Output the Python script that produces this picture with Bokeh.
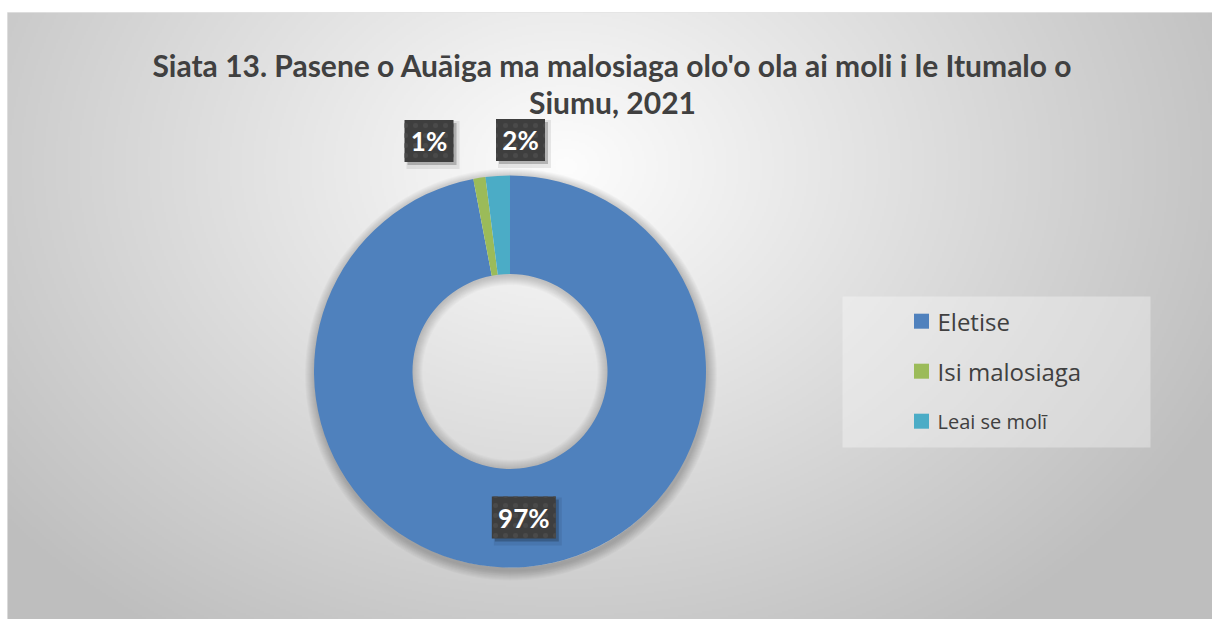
import numpy as np
from bokeh.plotting import figure
from bokeh.models import Range1d, ColumnDataSource
from bokeh.core.properties import value
from bokeh.embed import file_html
from bokeh.resources import INLINE

# ---------------- data ----------------
title_lines = ["Siata 13. Pasene o Auāiga ma malosiaga olo'o ola ai moli i le Itumalo o",
               "Siumu, 2021"]
categories = ["Eletise", "Isi malosiaga", "Leai se molī"]
shares = [97, 1, 2]
colors = ["#4f81bd", "#9bbb59", "#4bacc6"]
legend_font_sizes = ["24px", "24px", "20px"]

# ---------------- layout ----------------
W, H = 1212, 619
X0, X1 = 7, 1212
Y0, Y1 = 12, 619
CX, CY = 509.5, -371.0
R_OUT, R_IN = 196.0, 97.5
TXT = "#404040"
# manual placement of the two outside labels (offset from centre, px)
outside_offsets = {1: (-81.0, 230.5), 2: (10.5, 231.5)}

p = figure(width=W, height=H, x_range=Range1d(X0, X1), y_range=Range1d(-Y1, -Y0),
           output_backend="svg", toolbar_location=None,
           x_axis_location=None, y_axis_location=None,
           min_border_left=X0, min_border_right=0, min_border_top=Y0, min_border_bottom=0)
p.grid.visible = False
p.outline_line_color = "#e4e4e4"
p.background_fill_color = "#d8d8d8"
p.border_fill_color = "white"

# radial gradient background
nx, ny = 603, 304
xs = np.linspace(X0, X1, nx)
ys = np.linspace(Y1, Y0, ny)
XX, YY = np.meshgrid(xs, ys)
t = np.sqrt(((XX - 565) / 720) ** 2 + ((YY - 165) / 560) ** 2)
g = np.clip(253 - 62 * t, 190, 255).astype(np.uint32)
img = (np.uint32(255) << 24) | (g << 16) | (g << 8) | g
p.image_rgba(image=[img.astype(np.uint32)], x=X0, y=-Y1, dw=X1 - X0, dh=Y1 - Y0)

# soft shadow around donut
for k in range(1, 11):
    p.annulus(x=CX + 1, y=CY - 3, inner_radius=R_OUT - 3, outer_radius=R_OUT + k,
              fill_color="black", fill_alpha=0.022, line_color=None)
# inner shadow of hole
for k in range(1, 11):
    p.annulus(x=CX, y=CY - 1, inner_radius=R_IN - k, outer_radius=R_IN + 2,
              fill_color="black", fill_alpha=0.018, line_color=None)

# donut
total = float(sum(shares))
fr = np.array(shares, dtype=float) / total
cum = np.concatenate([[0.0], np.cumsum(fr)])
a_start = np.pi / 2 - 2 * np.pi * cum[:-1]
a_end = np.pi / 2 - 2 * np.pi * cum[1:]
src = ColumnDataSource(dict(cat=categories, start=list(a_end), end=list(a_start), color=colors))
p.annular_wedge(x=CX, y=CY, inner_radius=R_IN, outer_radius=R_OUT,
                start_angle="start", end_angle="end", fill_color="color",
                line_color=None, source=src)

# data labels
lab_x, lab_y, lab_t, lab_w = [], [], [], []
for i in range(len(shares)):
    txt = f"{round(fr[i] * 100)}%"
    if i in outside_offsets:
        dx, dy = outside_offsets[i]
        lx, ly = CX + dx, CY + dy
    else:
        mid = np.pi / 2 - 2 * np.pi * (cum[i] + cum[i + 1]) / 2
        rr = (R_OUT + R_IN) / 2
        lx, ly = CX + rr * np.cos(mid), CY + rr * np.sin(mid)
    lab_x.append(lx); lab_y.append(ly); lab_t.append(txt)
    lab_w.append(19 + 15 * len(txt))
lsrc = ColumnDataSource(dict(x=lab_x, y=lab_y, t=lab_t, w=lab_w,
                             xs1=[v + 4 for v in lab_x], ys1=[v - 4 for v in lab_y],
                             w1=[v + 4 for v in lab_w],
                             xs2=[v + 3 for v in lab_x], ys2=[v - 3 for v in lab_y]))
p.rect(x="xs1", y="ys1", width="w1", height=48, fill_color="black", fill_alpha=0.08,
       line_color=None, source=lsrc)
p.rect(x="xs2", y="ys2", width="w", height=42, fill_color="black", fill_alpha=0.22,
       line_color=None, source=lsrc)
p.rect(x="x", y="y", width="w", height=42, fill_color="#3e3e3e", line_color=None,
       hatch_pattern="dot", hatch_color="#4a4a4a", hatch_scale=10, hatch_weight=1.0,
       source=lsrc)
p.text(x="x", y="y", text="t", text_align="center", text_baseline="middle",
       text_color="white", text_font=value("Lato"), text_font_style="bold",
       text_font_size="26px", source=lsrc)

# title
p.text(x=[612, 612], y=[-64, -101], text=title_lines, text_align="center",
       text_baseline="alphabetic", text_color=TXT, text_font=value("Lato"),
       text_font_style="bold", text_font_size="30px")

# legend
p.rect(x=996, y=-371.5, width=308, height=151, fill_color="white", fill_alpha=0.33,
       line_color=None)
ly = [-(320.7 + 50 * i) for i in range(len(categories))]
gsrc = ColumnDataSource(dict(x=[921] * len(categories), y=ly, c=colors, t=categories,
                             tx=[937] * len(categories), fs=legend_font_sizes))
p.rect(x="x", y="y", width=15, height=15, fill_color="c", line_color=None, source=gsrc)
p.text(x="tx", y="y", text="t", text_align="left", text_baseline="middle",
       text_color=TXT, text_font=value("Open Sans"), text_font_size="fs", source=gsrc)

open("out.html", "w").write(file_html(p, INLINE))
